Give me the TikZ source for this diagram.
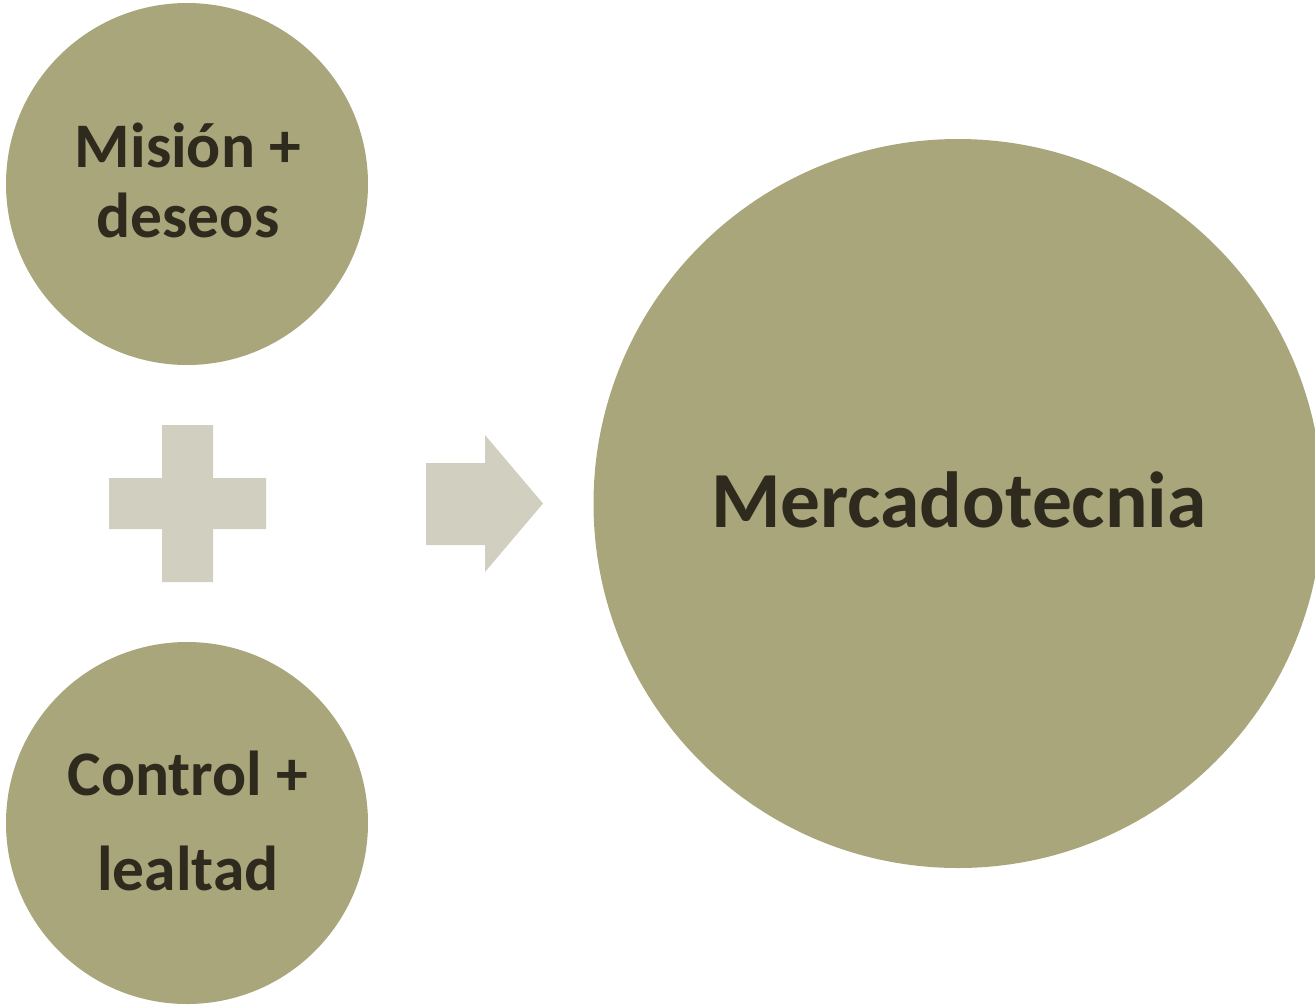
\documentclass[tikz,border=0pt]{standalone}
\usepackage{fontspec}
\setmainfont{Carlito}
\definecolor{olivefill}{HTML}{A9A67C}
\definecolor{darktext}{HTML}{2F2A1E}
\definecolor{lightshape}{HTML}{D1CFBF}
\begin{document}
\begin{tikzpicture}[x=1pt,y=-1pt,
  bubble/.style={circle,fill=olivefill,inner sep=0pt,minimum size=#1},
  smalltxt/.style={anchor=base,text=darktext,font=\fontsize{63.5}{70}\selectfont\bfseries,inner sep=0pt},
  bigtxt/.style={anchor=base,text=darktext,font=\fontsize{79.5}{84}\selectfont\bfseries,inner sep=0pt},
  symb/.style={fill=lightshape}]
\useasboundingbox (0,0) rectangle (1315,1005);
\begin{scope}
\clip (0,0) rectangle (1315,1005);
\node[bubble=362pt] (mision) at (187,184) {};
\node[bubble=362pt] (control) at (187,823) {};
\node[bubble=729pt] (merca) at (958,503.5) {};
\end{scope}
\node[smalltxt] (t1) at (188,167) {Misión +};
\node[smalltxt] (t2) at (188,237) {deseos};
\node[smalltxt] (t3) at (188,795) {Control +};
\node[smalltxt] (t4) at (188,890) {lealtad};
\node[bigtxt] (t5) at (959,527) {Mercadotecnia};
\fill[symb] (162,425) -- (213,425) -- (213,478) -- (266,478) -- (266,529) -- (213,529) -- (213,582) -- (162,582) -- (162,529) -- (109,529) -- (109,478) -- (162,478) -- cycle;
\fill[symb] (426,463) -- (485,463) -- (485,435) -- (543,503.5) -- (485,572) -- (485,545) -- (426,545) -- cycle;
\end{tikzpicture}
\end{document}
